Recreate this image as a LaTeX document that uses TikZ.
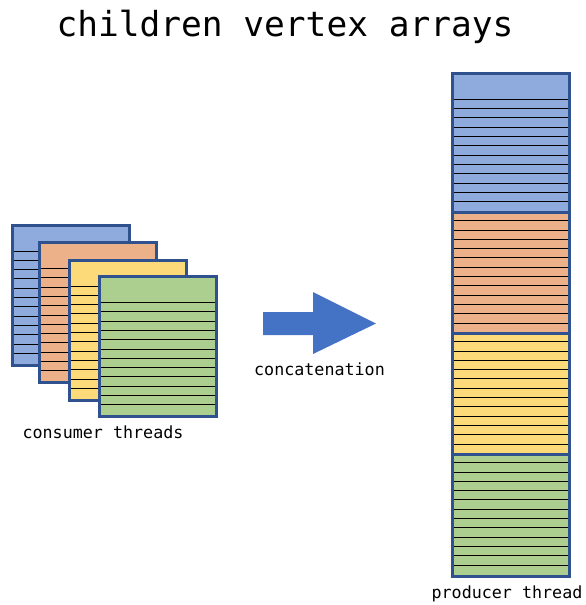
\documentclass[tikz,border=0pt]{standalone}
\usepackage{fontspec}
\setmonofont{DejaVu Sans Mono}

\definecolor{sheetblue}{RGB}{143,170,220}
\definecolor{sheetorange}{RGB}{237,177,137}
\definecolor{sheetyellow}{RGB}{252,218,122}
\definecolor{sheetgreen}{RGB}{172,206,142}
\definecolor{edgeblue}{RGB}{47,82,143}
\definecolor{arrowblue}{RGB}{68,114,196}

\tikzset{every picture/.style={line width=0.75pt}}
\tikzset{
    sheet/.style={draw=edgeblue, line width=3pt},
    row/.style={black, line width=1pt},
    label/.style={font=\ttfamily, inner sep=0pt, anchor=base}
}

% one ruled sheet: x, y of top left corner, fill colour, offset of first row, height
\newcommand{\ruledsheet}[5]{
    \fill[#3] (#1,#2) rectangle ++(117,#5);
    \foreach \k in {0,...,11}
        \draw[row] (#1,#2+#4+9.3*\k) -- ++(117,0);
    \draw[sheet] (#1,#2) rectangle ++(117,#5);
}

\begin{document}
\begin{tikzpicture}[x=1pt,y=-1pt]
        \useasboundingbox (0,0) rectangle (586,605);
        \node[label, font=\fontsize{34.5}{40}\selectfont\ttfamily] (title) at (285,36) {children vertex arrays};
        % consumer side
        \ruledsheet{12}{225}{sheetblue}{26}{140}
        \ruledsheet{39.5}{242.5}{sheetorange}{26}{140}
        \ruledsheet{69}{260}{sheetyellow}{26}{140}
        \ruledsheet{99.5}{276.5}{sheetgreen}{26}{140}
        \node[label, font=\fontsize{16.7}{20}\selectfont\ttfamily] (consumer) at (103,438) {consumer threads};
        % arrow
        \fill[arrowblue] (263,312) -- (313,312) -- (313,292) -- (376,323.5) -- (313,354) -- (313,335) -- (263,335) -- cycle;
        \node[label, font=\fontsize{16.7}{20}\selectfont\ttfamily] (concat) at (319.5,375.5) {concatenation};
        % producer side
        \ruledsheet{452}{454}{sheetgreen}{8.7}{122.7}
        \ruledsheet{452}{333}{sheetyellow}{8.7}{121}
        \ruledsheet{452}{212}{sheetorange}{8.7}{121}
        \ruledsheet{452}{73}{sheetblue}{26.3}{139}
        \draw[sheet] (452,73) rectangle (569,576.7);
        \node[label, font=\fontsize{16.7}{20}\selectfont\ttfamily] (producer) at (507,598) {producer thread};
    \end{tikzpicture}
\end{document}
